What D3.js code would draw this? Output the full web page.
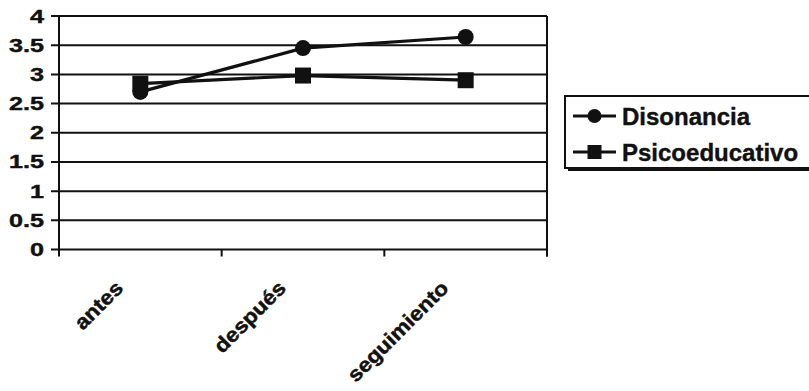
<!DOCTYPE html>
<html>
<head>
<meta charset="utf-8">
<script src="https://cdn.jsdelivr.net/npm/d3@7"></script>
<style>
  body { margin: 0; background: #fff; }
  text { font-family: "Liberation Sans", Arial, sans-serif; font-weight: bold; fill: #111; }
</style>
</head>
<body>
<svg id="chart" width="809" height="391"></svg>
<script>
// Measurement occasions
const categories = ["antes", "después", "seguimiento"];
// Mean scores per group
const disonancia = [2.70, 3.45, 3.64];
const psicoeducativo = [2.84, 2.98, 2.90];
const seriesNames = ["Disonancia", "Psicoeducativo"];
const yTicks = [0, 0.5, 1, 1.5, 2, 2.5, 3, 3.5, 4];

const series = [
  { name: seriesNames[0], values: disonancia, marker: "circle" },
  { name: seriesNames[1], values: psicoeducativo, marker: "square" }
];

const svg = d3.select("#chart");
const ink = "#111";

const x = d3.scaleBand().domain(categories).range([59, 547]);
const y = d3.scaleLinear().domain([0, 4]).range([249.5, 16]);

// horizontal gridlines (each extends left as the axis tick)
svg.append("g").selectAll("line").data(yTicks).join("line")
  .attr("x1", 51).attr("x2", x.range()[1])
  .attr("y1", d => y(d)).attr("y2", d => y(d))
  .attr("stroke", ink).attr("stroke-width", 2);

// y axis and right frame
svg.append("line").attr("x1", 59).attr("x2", 59).attr("y1", y(4)).attr("y2", y(0))
  .attr("stroke", ink).attr("stroke-width", 2);
svg.append("line").attr("x1", 547).attr("x2", 547).attr("y1", y(4)).attr("y2", y(0) + 7)
  .attr("stroke", ink).attr("stroke-width", 2);

// category boundary ticks on the x axis
const bounds = categories.map(c => x(c)).concat([x.range()[1]]);
svg.append("g").selectAll("line").data(bounds).join("line")
  .attr("x1", d => d).attr("x2", d => d)
  .attr("y1", y(0)).attr("y2", y(0) + 7)
  .attr("stroke", ink).attr("stroke-width", 2);

// y tick labels (wide bold digits)
svg.append("g").selectAll("g").data(yTicks).join("g")
  .attr("transform", d => `translate(44,${y(d) + 6.5}) scale(1.4,1)`)
  .append("text")
  .attr("text-anchor", "end")
  .attr("font-size", 18)
  .attr("stroke", ink).attr("stroke-width", 0.4)
  .text(d => d3.format("")(d));

// rotated category labels
svg.append("g").selectAll("g").data(categories).join("g")
  .attr("transform", d => `translate(${x(d) + x.bandwidth() / 2 - 16},${y(0) + 40}) rotate(-45) scale(1.1,1)`)
  .append("text")
  .attr("text-anchor", "end")
  .attr("font-size", 20.5)
  .attr("stroke", ink).attr("stroke-width", 0.5)
  .text(d => d);

// series lines
const line = d3.line()
  .x((d, i) => x(categories[i]) + x.bandwidth() / 2)
  .y(d => y(d));

series.forEach(s => {
  svg.append("path").datum(s.values)
    .attr("d", line)
    .attr("fill", "none")
    .attr("stroke", ink)
    .attr("stroke-width", 3.2);
});

function drawMarker(g, kind, cx, cy, size) {
  if (kind === "circle") {
    g.append("circle").attr("cx", cx).attr("cy", cy).attr("r", size / 2).attr("fill", ink);
  } else {
    g.append("rect").attr("x", cx - size / 2).attr("y", cy - size / 2)
      .attr("width", size).attr("height", size).attr("fill", ink);
  }
}

series.forEach(s => {
  const g = svg.append("g");
  s.values.forEach((v, i) => drawMarker(g, s.marker, x(categories[i]) + x.bandwidth() / 2, y(v), 16));
});

// legend
const legend = svg.append("g");
legend.append("rect").attr("x", 568).attr("y", 99).attr("width", 260).attr("height", 72).attr("fill", ink);
legend.append("rect").attr("x", 565).attr("y", 96).attr("width", 260).attr("height", 72)
  .attr("fill", "#fff").attr("stroke", ink).attr("stroke-width", 2);

const legendY = [116, 152];
series.forEach((s, i) => {
  const ly = legendY[i];
  legend.append("line").attr("x1", 573).attr("x2", 616).attr("y1", ly).attr("y2", ly)
    .attr("stroke", ink).attr("stroke-width", 3);
  drawMarker(legend, s.marker, 594.5, ly, 14);
  legend.append("text").attr("x", 622).attr("y", ly + 9)
    .attr("font-size", 24)
    .attr("stroke", ink).attr("stroke-width", 0.4)
    .text(s.name);
});
</script>
</body>
</html>
